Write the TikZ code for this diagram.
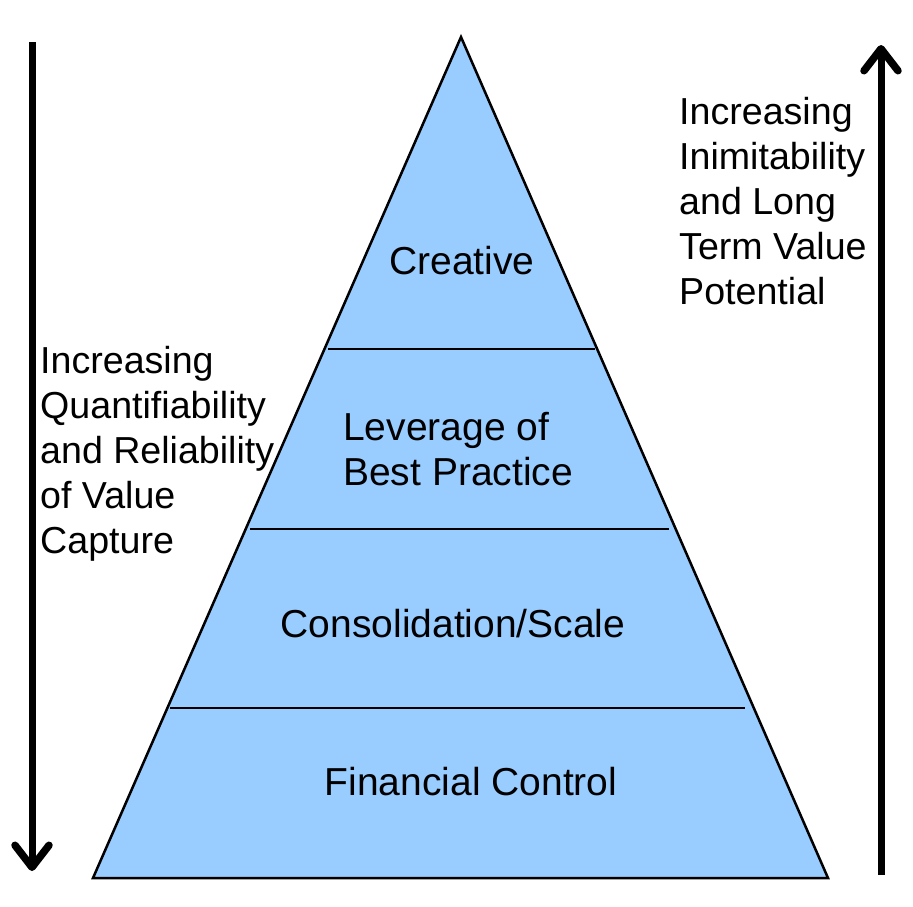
\documentclass[tikz,border=0pt]{standalone}
\usepackage{fontspec}
\setmainfont{Liberation Sans}
\usetikzlibrary{arrows.meta, positioning}
\definecolor{pyrblue}{HTML}{99CCFF}

\begin{document}
\begin{tikzpicture}[
        x=1pt, y=-1pt,
        pyramid/.style={draw=black, line width=2.5pt, fill=pyrblue, line join=miter},
        divider/.style={draw=black, line width=2pt},
        trend/.style={line width=7pt, -{Straight Barb[length=22pt, width=34pt, round, line width=7.5pt 0]}},
        sidetext/.style={anchor=west, align=left, font=\fontsize{37.6}{45}\selectfont},
        every node/.style={font=\fontsize{39}{45}\selectfont, inner sep=0pt}
    ]
    \useasboundingbox (0,0) rectangle (913,906);

    % Pyramid
    \coordinate (apex) at (461,37);
    \coordinate (baseR) at (828,878);
    \coordinate (baseL) at (93,878);
    \draw[pyramid] (apex) -- (baseR) -- (baseL) -- cycle;

    % Tier dividers
    \draw[divider] (328,349) -- (595,349);
    \draw[divider] (250,529) -- (669,529);
    \draw[divider] (170,708) -- (745,708);

    % Tier labels
    \node (creative) at (462,261) {Creative};
    \node[anchor=west, align=left] (leverage) at (343,449) {Leverage of\\Best Practice};
    \node (consol) at (453,624) {Consolidation/Scale};
    \node (financial) at (471,782) {Financial Control};

    % Side arrows
    \coordinate (downtop) at (32,42);
    \coordinate (downend) at (32,871);
    \draw[trend] (downtop) -- (downend);
    \coordinate (upbot) at (881,875);
    \coordinate (upend) at (881,45);
    \draw[trend] (upbot) -- (upend);

    % Side texts
    \node[sidetext] (quant) at (40,454)
        {Increasing\\Quantifiability\\and Reliability\\of Value\\Capture};
    \node[sidetext] (inimit) at (679,201)
        {Increasing\\Inimitability\\and Long\\Term Value\\Potential};

\end{tikzpicture}
\end{document}
